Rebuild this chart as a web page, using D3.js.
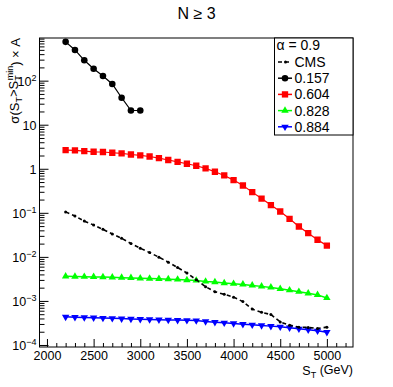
<!DOCTYPE html>
<html>
<head>
<meta charset="utf-8">
<script src="https://cdn.jsdelivr.net/npm/d3@7"></script>
<style>
  body { margin: 0; background: #fff; }
  svg { font-family: "Liberation Sans", Arial, sans-serif; }
</style>
</head>
<body>
<svg id="chart" width="393" height="387"></svg>
<script>

// S_T points (GeV)
var stX = [2200, 2300, 2400, 2500, 2600, 2700, 2800, 2900, 3000, 3100,
           3200, 3300, 3400, 3500, 3600, 3700, 3800, 3900, 4000, 4100,
           4200, 4300, 4400, 4500, 4600, 4700, 4800, 4900, 5000];

var cms = [0.105, 0.0843, 0.065, 0.0528, 0.0422, 0.033, 0.0264, 0.020, 0.0157, 0.0125,
           0.00984, 0.0076, 0.00574, 0.00429, 0.00303, 0.0021, 0.00162, 0.00141, 0.00122, 9.65e-4,
           6.53e-4, 5.53e-4, 4.91e-4, 3.33e-4, 2.82e-4, 2.54e-4, 2.5e-4, 2.37e-4, 2.54e-4];

var c157 = [760, 498, 290, 187, 128, 84, 41, 21, 21];

var c604 = [2.66, 2.61, 2.52, 2.43, 2.40, 2.31, 2.23, 2.11, 2.01, 1.90,
            1.75, 1.58, 1.44, 1.30, 1.17, 1.02, 0.855, 0.705, 0.553, 0.417,
            0.295, 0.211, 0.150, 0.107, 0.073, 0.049, 0.0345, 0.0245, 0.018];

var c828 = [3.63e-3, 3.59e-3, 3.55e-3, 3.51e-3, 3.48e-3, 3.43e-3, 3.38e-3, 3.33e-3, 3.27e-3, 3.22e-3,
            3.17e-3, 3.12e-3, 3.07e-3, 2.99e-3, 2.92e-3, 2.77e-3, 2.68e-3, 2.55e-3, 2.46e-3, 2.37e-3,
            2.25e-3, 2.14e-3, 2.03e-3, 1.88e-3, 1.75e-3, 1.62e-3, 1.49e-3, 1.37e-3, 1.17e-3];

var c884 = [4.35e-4, 4.28e-4, 4.22e-4, 4.15e-4, 4.09e-4, 4.03e-4, 3.97e-4, 3.91e-4, 3.85e-4, 3.79e-4,
            3.75e-4, 3.71e-4, 3.67e-4, 3.63e-4, 3.59e-4, 3.41e-4, 3.29e-4, 3.19e-4, 3.08e-4, 2.97e-4,
            2.87e-4, 2.77e-4, 2.68e-4, 2.59e-4, 2.46e-4, 2.33e-4, 2.22e-4, 2.10e-4, 1.95e-4];

var xMajor = [2000, 2500, 3000, 3500, 4000, 4500, 5000];
var yExp = [-4, -3, -2, -1, 0, 1, 2];
var legendLabels = ["CMS", "0.157", "0.604", "0.828", "0.884"];

var svg = d3.select("#chart");

var fLeft = 39.5, fRight = 353, fTop = 38, fBottom = 347;

var xScale = d3.scaleLinear().domain([1920, 5280]).range([fLeft, fRight]);
var yScale = d3.scaleLog().domain([9e-5, 930]).range([fBottom, fTop]);

// minor ticks
var xMinor = d3.range(2000, 5280, 100).filter(function(v){ return xMajor.indexOf(v) < 0; });
var yMinor = [];
yExp.forEach(function(e){
    for (var k = 2; k <= 9; k++) {
        var v = k * Math.pow(10, e);
        if (v < 930) yMinor.push(v);
    }
});

var gx = svg.append("g").attr("transform", "translate(0," + fBottom + ")");
gx.append("g").call(d3.axisBottom(xScale).tickValues(xMinor).tickSize(-4).tickFormat(""));
gx.append("g").call(d3.axisBottom(xScale).tickValues(xMajor).tickSize(-8).tickPadding(6)
    .tickFormat(d3.format("d")));
gx.selectAll(".domain").remove();
gx.selectAll("line").attr("stroke", "#000").attr("stroke-width", 1);
gx.selectAll("text").attr("font-size", 12.5).attr("fill", "#000")
    .attr("font-family", "Liberation Sans, Arial, sans-serif").attr("y", 2).attr("dy", "0.9em");

var gy = svg.append("g").attr("transform", "translate(" + fLeft + ",0)");
gy.append("g").call(d3.axisLeft(yScale).tickValues(yMinor).tickSize(-5).tickFormat(""));
gy.append("g").attr("class", "ymaj")
    .call(d3.axisLeft(yScale).tickValues(yExp.map(function(e){ return Math.pow(10, e); }))
    .tickSize(-9).tickPadding(3).tickFormat(""));
gy.selectAll(".domain").remove();
gy.selectAll("line").attr("stroke", "#000").attr("stroke-width", 1);

// decade labels with superscripts
gy.select(".ymaj").selectAll(".tick").each(function(d){
    var e = Math.round(Math.log10(d));
    var t = d3.select(this).select("text")
        .attr("font-size", 12.5).attr("fill", "#000")
        .attr("font-family", "Liberation Sans, Arial, sans-serif")
        .attr("x", -3).attr("dy", "0.35em").attr("text-anchor", "end");
    if (e == 0) { t.text("1"); }
    else if (e == 1) { t.text("10"); }
    else {
        t.append("tspan").text("10");
        t.append("tspan").attr("font-size", 9).attr("dy", "-0.55em").text(e > 0 ? e : "\u2212" + (-e));
    }
});

// series lines and markers
svg.append("clipPath").attr("id", "frameClip").append("rect")
    .attr("x", fLeft).attr("y", fTop).attr("width", fRight - fLeft).attr("height", fBottom - fTop);

var plot = svg.append("g").attr("clip-path", "url(#frameClip)");

function pts(vals) {
    return vals.map(function(v, i){ return [stX[i], v]; });
}
var line = d3.line()
    .x(function(d){ return xScale(d[0]); })
    .y(function(d){ return yScale(d[1]); });

var series = [
    {vals: c884, color: "#0000ff", sym: d3.symbolTriangle, size: 24, rot: 180, width: 1.5},
    {vals: c828, color: "#00ff00", sym: d3.symbolTriangle, size: 24, rot: 0, width: 1.5},
    {vals: c604, color: "#ff0000", sym: d3.symbolSquare, size: 40, rot: 0, width: 1.2},
    {vals: c157, color: "#000000", sym: d3.symbolCircle, size: 34, rot: 0, width: 1.2}
];

series.forEach(function(s){
    var data = pts(s.vals);
    plot.append("path").datum(data)
        .attr("d", line).attr("fill", "none")
        .attr("stroke", s.color).attr("stroke-width", s.width);
    plot.selectAll(null).data(data).enter().append("path")
        .attr("d", d3.symbol().type(s.sym).size(s.size))
        .attr("transform", function(d){
            return "translate(" + xScale(d[0]) + "," + yScale(d[1]) + ") rotate(" + s.rot + ")";
        })
        .attr("fill", s.color);
});

// CMS dashed
var cmsData = pts(cms);
plot.append("path").datum(cmsData)
    .attr("d", line).attr("fill", "none")
    .attr("stroke", "#000").attr("stroke-width", 1.6).attr("stroke-dasharray", "4,3");
plot.selectAll(".cmsdot").data(cmsData).enter().append("circle")
    .attr("class", "cmsdot")
    .attr("cx", function(d){ return xScale(d[0]); })
    .attr("cy", function(d){ return yScale(d[1]); })
    .attr("r", 1.5).attr("fill", "#000");

// frame
svg.append("rect")
    .attr("x", fLeft).attr("y", fTop).attr("width", fRight - fLeft).attr("height", fBottom - fTop)
    .attr("fill", "none").attr("stroke", "#000").attr("stroke-width", 1);

// title
svg.append("text").attr("x", 196.5).attr("y", 19).attr("text-anchor", "middle")
    .attr("font-size", 16).text("N \u2265 3");

// x title
var xt = svg.append("text").attr("x", fRight).attr("y", 375).attr("text-anchor", "end")
    .attr("font-size", 12.5);
xt.append("tspan").text("S");
xt.append("tspan").attr("font-size", 9).attr("dy", "0.3em").text("T");
xt.append("tspan").attr("dy", "-0.3em").text(" (GeV)");

// y title
var yt = svg.append("text").attr("transform", "translate(19," + fTop + ") rotate(-90)")
    .attr("text-anchor", "end").attr("font-size", 13);
yt.append("tspan").text("\u03c3(S");
yt.append("tspan").attr("font-size", 9).attr("dy", "0.35em").text("T");
yt.append("tspan").attr("dy", "-0.35em").text(">S");
yt.append("tspan").attr("font-size", 9).attr("dy", "0.35em").text("T");
yt.append("tspan").attr("font-size", 9).attr("dx", "-5").attr("dy", "-0.9em").text("min");
yt.append("tspan").attr("dy", "0.55em").text(") \u00d7 A");

// legend
var lg = svg.append("g");
lg.append("rect").attr("x", 274.5).attr("y", fTop).attr("width", fRight - 274.5).attr("height", 97)
    .attr("fill", "#fff").attr("stroke", "#000").attr("stroke-width", 1);
lg.append("text").attr("x", 276.5).attr("y", 50).attr("font-size", 14).text("\u03b1 = 0.9");

var legendStyles = [
    {color: "#000", sym: null},
    {color: "#000000", sym: d3.symbolCircle, size: 34, rot: 0},
    {color: "#ff0000", sym: d3.symbolSquare, size: 40, rot: 0},
    {color: "#00ff00", sym: d3.symbolTriangle, size: 24, rot: 0},
    {color: "#0000ff", sym: d3.symbolTriangle, size: 24, rot: 180}
];

legendLabels.forEach(function(lab, i){
    var cy = 62 + i * 16.2;
    var st = legendStyles[i];
    var ln = lg.append("line").attr("x1", 278).attr("x2", 292).attr("y1", cy).attr("y2", cy)
        .attr("stroke", st.color).attr("stroke-width", st.sym ? 1.5 : 1.6);
    if (!st.sym) {
        ln.attr("stroke-dasharray", "4,3");
        lg.append("circle").attr("cx", 285.5).attr("cy", cy).attr("r", 1.5).attr("fill", "#000");
    } else {
        lg.append("path").attr("d", d3.symbol().type(st.sym).size(st.size))
            .attr("transform", "translate(285," + cy + ") rotate(" + st.rot + ")")
            .attr("fill", st.color);
    }
    lg.append("text").attr("x", 294.5).attr("y", cy + 5).attr("font-size", 14).text(lab);
});

</script>
</body>
</html>
